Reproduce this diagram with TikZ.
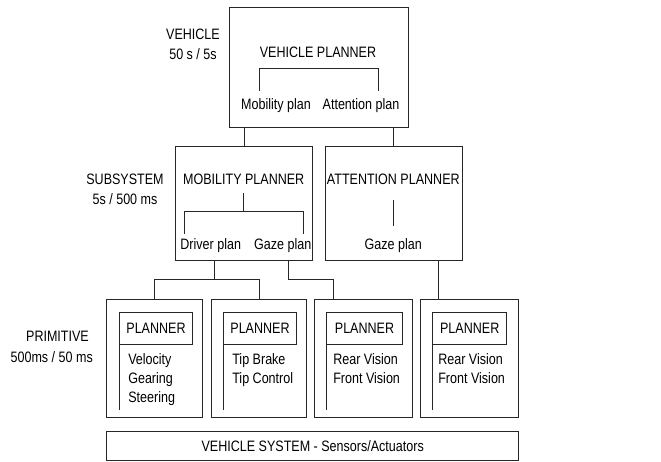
\documentclass[tikz,border=0pt]{standalone}
\usepackage{fontspec}
\setmainfont[FakeStretch=0.83]{Liberation Sans}
\begin{document}
\begin{tikzpicture}[x=1pt,y=-1pt,
  every node/.style={font=\fontsize{15.1}{19.3}\selectfont, inner sep=0pt, outer sep=0pt},
  box/.style={draw=black!85, line width=0.8pt, fill=none},
  txt/.style={anchor=base},
  ltxt/.style={anchor=base west},
  conn/.style={draw=black!85, line width=0.8pt}]
\useasboundingbox (0,0) rectangle (661,462);
% boxes
\node[box, minimum width=179.3pt, minimum height=120.4pt] (veh) at (318.65,67.5) {};
\node[box, minimum width=136.6pt, minimum height=113.3pt] (mob) at (244,203.35) {};
\node[box, minimum width=137pt, minimum height=113.3pt] (att) at (393.5,203.35) {};
\node[box, minimum width=95.3pt, minimum height=118.7pt] (p1) at (154.35,358.35) {};
\node[box, minimum width=95pt, minimum height=118.7pt] (p2) at (259.2,358.35) {};
\node[box, minimum width=98pt, minimum height=118.7pt] (p3) at (363.7,358.35) {};
\node[box, minimum width=98.4pt, minimum height=118.7pt] (p4) at (469.5,358.35) {};
\node[box, minimum width=412pt, minimum height=28.3pt] (sys) at (312.7,445.85) {};
% inner planner boxes
\node[box, minimum width=73.4pt, minimum height=31.7pt] (pl1) at (156,328.15) {};
\node[box, minimum width=73.4pt, minimum height=31.7pt] (pl2) at (260,328.15) {};
\node[box, minimum width=75.6pt, minimum height=31.7pt] (pl3) at (364.5,328.15) {};
\node[box, minimum width=74pt, minimum height=31.7pt] (pl4) at (469.7,328.15) {};
% left texts
\node[txt] (lv1) at (193,40) {VEHICLE};
\node[txt] (lv2) at (193,60) {50 s / 5s};
\node[txt] (ls1) at (125,185) {SUBSYSTEM};
\node[txt] (ls2) at (125,204.3) {5s / 500 ms};
\node[txt] (lp1) at (57.5,341) {PRIMITIVE};
\node[txt] (lp2) at (51.7,362) {500ms / 50 ms};
% vehicle box texts
\node[txt] (vp) at (318,57.3) {VEHICLE PLANNER};
\node[txt] (mplan) at (276,110) {Mobility plan};
\node[txt] (aplan) at (361,110) {Attention plan};
% subsystem texts
\node[txt] (mp) at (243.7,185) {MOBILITY PLANNER};
\node[txt] (drv) at (210.7,250) {Driver plan};
\node[txt] (gz1) at (282.7,250) {Gaze plan};
\node[txt] (ap) at (393.3,185) {ATTENTION PLANNER};
\node[txt] (gz2) at (393.3,250) {Gaze plan};
% primitive texts
\node[txt] (t1) at (pl1.center |- 0,333.6) {PLANNER};
\node[txt] (t2) at (pl2.center |- 0,333.6) {PLANNER};
\node[txt] (t3) at (pl3.center |- 0,333.6) {PLANNER};
\node[txt] (t4) at (pl4.center |- 0,333.6) {PLANNER};
\node[ltxt] (b1a) at (128.3,364) {Velocity};
\node[ltxt] (b1b) at (128.3,383.3) {Gearing};
\node[ltxt] (b1c) at (128.3,402.6) {Steering};
\node[ltxt] (b2a) at (232.3,364) {Tip Brake};
\node[ltxt] (b2b) at (232.3,383.3) {Tip Control};
\node[ltxt] (b3a) at (333.3,364) {Rear Vision};
\node[ltxt] (b3b) at (333.3,383.3) {Front Vision};
\node[ltxt] (b4a) at (438.3,364) {Rear Vision};
\node[ltxt] (b4b) at (438.3,383.3) {Front Vision};
\node[txt] (st) at (312.7,451.3) {VEHICLE SYSTEM - Sensors/Actuators};
% inner planner left lines
\draw[conn] (pl1.south west) -- (pl1.south west |- 0,410);
\draw[conn] (pl2.south west) -- (pl2.south west |- 0,410);
\draw[conn] (pl3.south west) -- (pl3.south west |- 0,410);
\draw[conn] (pl4.south west) -- (pl4.south west |- 0,410);
% vehicle bracket
\coordinate (vbl) at (259,90.7);
\coordinate (vbr) at (378,90.7);
\draw[conn] (vbl) -- (vbl |- 0,68.7) -- (vbr |- 0,68.7) -- (vbr);
% mobility bracket
\draw[conn] (mp.south |- 0,193.3) -- (243.7,211);
\draw[conn] (184,233.7) -- (184,211) -- (303.7,211) -- (303.7,233.7);
% attention line
\draw[conn] (ap.south |- 0,200) -- (gz2.north |- 0,226);
% connectors between levels
\draw[conn] (veh.south -| 244.3,0) -- (mob.north -| 244.3,0);
\draw[conn] (veh.south -| 393.7,0) -- (att.north -| 393.7,0);
\draw[conn] (mob.south -| 214,0) -- (214,279.3);
\draw[conn] (p1.north) -- (p1.north |- 0,279.3) -- (p2.north |- 0,279.3) -- (p2.north);
\draw[conn] (mob.south -| 288.7,0) -- (288.7,279.3) -- (333.7,279.3) -- (p3.north -| 333.7,0);
\draw[conn] (att.south -| 438.3,0) -- (p4.north -| 438.3,0);
\end{tikzpicture}
\end{document}
